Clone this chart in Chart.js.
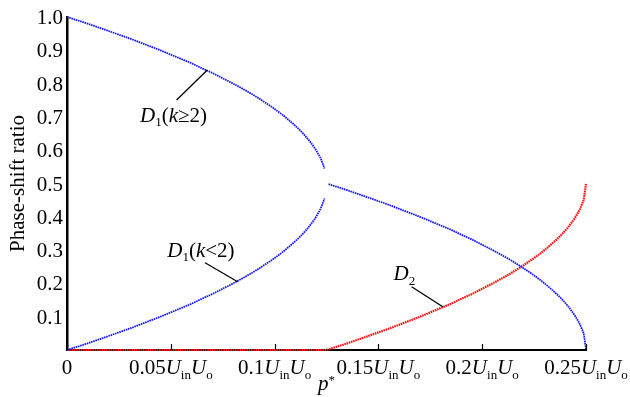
<!DOCTYPE html>
<html>
<head>
<meta charset="utf-8">
<title>Phase-shift ratio vs p*</title>
<script src="https://cdn.jsdelivr.net/npm/chart.js"></script>
<style>
  body { margin: 0; background: #fff; }
  #chart { display: block; }
</style>
</head>
<body>
<canvas id="chart" width="630" height="397"></canvas>
<script>
// p* samples (in units of Uin*Uo) for the two branches left of the cusp
const pLeft = [0, 0.005, 0.01, 0.015, 0.02, 0.025, 0.03, 0.035, 0.04, 0.045, 0.05, 0.055, 0.06,
  0.065, 0.07, 0.075, 0.08, 0.085, 0.09, 0.095, 0.1, 0.105, 0.11, 0.113, 0.116, 0.118, 0.12,
  0.121, 0.122, 0.123, 0.124];
// D1 for k >= 2 (upper branch)
const d1High = [1, 0.990, 0.980, 0.969, 0.958, 0.947, 0.936, 0.924, 0.912, 0.900, 0.887, 0.874,
  0.861, 0.846, 0.832, 0.816, 0.800, 0.783, 0.765, 0.745, 0.724, 0.700, 0.673, 0.655, 0.634,
  0.618, 0.600, 0.589, 0.578, 0.563, 0.545];
// D1 for k < 2 (lower branch)
const d1Low = [0, 0.010, 0.020, 0.031, 0.042, 0.053, 0.064, 0.076, 0.088, 0.100, 0.113, 0.126,
  0.139, 0.154, 0.168, 0.184, 0.200, 0.217, 0.235, 0.255, 0.276, 0.300, 0.327, 0.345, 0.366,
  0.382, 0.400, 0.411, 0.422, 0.437, 0.455];

// p* samples right of the cusp, where D2 becomes non-zero
const pRight = [0.126, 0.13, 0.135, 0.14, 0.145, 0.15, 0.155, 0.16, 0.165, 0.17, 0.175, 0.18,
  0.185, 0.19, 0.195, 0.2, 0.205, 0.21, 0.215, 0.22, 0.225, 0.23, 0.235, 0.238, 0.241, 0.243,
  0.245, 0.246, 0.247, 0.248, 0.249, 0.25];
const d1Right = [0.498, 0.490, 0.480, 0.469, 0.458, 0.447, 0.436, 0.424, 0.412, 0.400, 0.387,
  0.374, 0.361, 0.346, 0.332, 0.316, 0.300, 0.283, 0.265, 0.245, 0.224, 0.200, 0.173, 0.155,
  0.134, 0.118, 0.100, 0.089, 0.078, 0.063, 0.045, 0];
const d2Right = [0.002, 0.010, 0.020, 0.031, 0.042, 0.053, 0.064, 0.076, 0.088, 0.100, 0.113,
  0.126, 0.139, 0.154, 0.168, 0.184, 0.200, 0.217, 0.235, 0.255, 0.276, 0.300, 0.327, 0.345,
  0.366, 0.382, 0.400, 0.411, 0.422, 0.437, 0.455, 0.5];
// D2 stays at zero up to the cusp
const pBase = [0, 0.125];
const d2Base = [0, 0];

// axis ticks
const xTicks = [0, 0.05, 0.1, 0.15, 0.2, 0.25];
const xTickLabels = ['0', '0.05', '0.1', '0.15', '0.2', '0.25'];
const yTicks = [0.1, 0.2, 0.3, 0.4, 0.5, 0.6, 0.7, 0.8, 0.9, 1.0];
const yTickLabels = ['0.1', '0.2', '0.3', '0.4', '0.5', '0.6', '0.7', '0.8', '0.9', '1.0'];

// curve labels with leader lines, all in data units
const curveLabels = [
  { parts: [{ t: 'D', it: 1 }, { t: '1', sub: 1 }, { t: '(' }, { t: 'k', it: 1 }, { t: '\u2265' }, { t: '2)' }],
    at: [0.0513, 0.686], from: [0.0528, 0.751], to: [0.0676, 0.841] },
  { parts: [{ t: 'D', it: 1 }, { t: '1', sub: 1 }, { t: '(' }, { t: 'k', it: 1 }, { t: '<' }, { t: '2)' }],
    at: [0.0645, 0.280], from: [0.0665, 0.262], to: [0.0822, 0.205] },
  { parts: [{ t: 'D', it: 1 }, { t: '2', sub: 1 }],
    at: [0.1625, 0.210], from: [0.166, 0.190], to: [0.181, 0.130] }
];

const FAMILY = '"Liberation Serif", "DejaVu Serif", serif';
const FS = 21;
const BLUE = '#1414ff';
const RED = '#ff1010';

const zip = (xs, ys) => xs.map((x, i) => ({ x: x, y: ys[i] }));

function partFont(p, size) {
  const s = (p.sub || p.sup) ? Math.round(size * 0.62) : size;
  return (p.it ? 'italic ' : '') + s + 'px ' + FAMILY;
}

function richWidth(ctx, parts, size) {
  let w = 0;
  parts.forEach(p => { ctx.font = partFont(p, size); w += ctx.measureText(p.t).width; });
  return w;
}

// draws mixed italic / subscript text on one baseline
function drawRich(ctx, parts, x, y, size, align) {
  const w = richWidth(ctx, parts, size);
  let cx = align === 'center' ? x - w / 2 : align === 'right' ? x - w : x;
  ctx.textAlign = 'left';
  ctx.textBaseline = 'alphabetic';
  parts.forEach(p => {
    ctx.font = partFont(p, size);
    let dy = 0;
    if (p.sub) dy = size * 0.22;
    if (p.sup) dy = -size * 0.3;
    ctx.fillText(p.t, cx, y + dy);
    cx += ctx.measureText(p.t).width;
  });
}

const axisText = {
  id: 'axisText',
  afterDraw(chart) {
    const ctx = chart.ctx;
    const xs = chart.scales.x, ys = chart.scales.y;
    const area = chart.chartArea;
    ctx.save();
    ctx.fillStyle = '#000';
    ctx.strokeStyle = '#000';

    // inward x tick marks
    ctx.lineWidth = 1.2;
    xTicks.forEach(v => {
      const px = Math.round(xs.getPixelForValue(v)) + 0.5;
      ctx.beginPath();
      ctx.moveTo(px, area.bottom);
      ctx.lineTo(px, area.bottom - 6);
      ctx.stroke();
    });

    // x tick labels
    xTicks.forEach((v, i) => {
      const px = xs.getPixelForValue(v);
      const parts = v === 0 ? [{ t: xTickLabels[i] }] :
        [{ t: xTickLabels[i] }, { t: 'U', it: 1 }, { t: 'in', sub: 1 }, { t: 'U', it: 1 }, { t: 'o', sub: 1 }];
      drawRich(ctx, parts, px, area.bottom + 24, FS, 'center');
    });

    // y tick labels
    yTicks.forEach((v, i) => {
      const py = ys.getPixelForValue(v);
      drawRich(ctx, [{ t: yTickLabels[i] }], area.left - 4, py + 7, FS, 'right');
    });

    // axis titles
    drawRich(ctx, [{ t: 'p', it: 1 }, { t: '*', sup: 1 }], (area.left + area.right) / 2, area.bottom + 40, FS, 'center');
    ctx.save();
    ctx.translate(24, (area.top + area.bottom) / 2);
    ctx.rotate(-Math.PI / 2);
    drawRich(ctx, [{ t: 'Phase-shift ratio' }], 0, 0, FS, 'center');
    ctx.restore();

    // curve labels and leaders
    ctx.lineWidth = 1.3;
    curveLabels.forEach(l => {
      drawRich(ctx, l.parts, xs.getPixelForValue(l.at[0]), ys.getPixelForValue(l.at[1]), FS, 'center');
      ctx.beginPath();
      ctx.moveTo(xs.getPixelForValue(l.from[0]), ys.getPixelForValue(l.from[1]));
      ctx.lineTo(xs.getPixelForValue(l.to[0]), ys.getPixelForValue(l.to[1]));
      ctx.stroke();
    });
    ctx.restore();
  }
};

const dotted = {
  showLine: true,
  pointRadius: 0,
  borderWidth: 1.8,
  borderDash: [1.6, 0.7],
  cubicInterpolationMode: 'monotone',
  clip: false
};

new Chart(document.getElementById('chart'), {
  type: 'scatter',
  data: {
    datasets: [
      Object.assign({ label: 'D1 (k>=2)', data: zip(pLeft, d1High), borderColor: BLUE }, dotted),
      Object.assign({ label: 'D1 (k<2)', data: zip(pLeft, d1Low), borderColor: BLUE }, dotted),
      Object.assign({ label: 'D1', data: zip(pRight, d1Right), borderColor: BLUE }, dotted),
      Object.assign({ label: 'D2', data: zip(pBase, d2Base).concat(zip(pRight, d2Right)), borderColor: RED }, dotted,
        { borderWidth: 2.2 })
    ]
  },
  options: {
    responsive: false,
    animation: false,
    devicePixelRatio: 1,
    layout: { padding: { left: 59, right: 44, top: 17, bottom: 39 } },
    plugins: { legend: { display: false }, tooltip: { enabled: false } },
    scales: {
      x: {
        type: 'linear', min: 0, max: 0.25,
        ticks: { display: false },
        grid: { display: false },
        border: { display: true, color: '#000', width: 2 }
      },
      y: {
        type: 'linear', min: 0, max: 1,
        ticks: { display: false },
        grid: { display: false },
        border: { display: true, color: '#000', width: 2.5 }
      }
    }
  },
  plugins: [axisText]
});
</script>
</body>
</html>
